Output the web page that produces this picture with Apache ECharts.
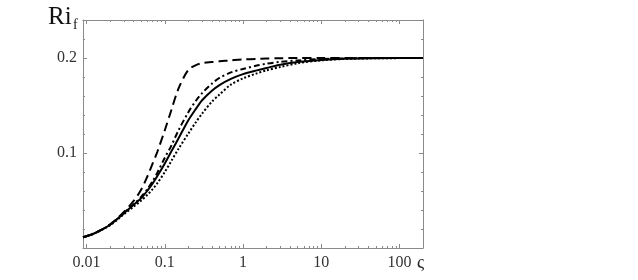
<!DOCTYPE html>
<html>
<head>
<meta charset="utf-8">
<script src="https://cdn.jsdelivr.net/npm/echarts@6/dist/echarts.min.js"></script>
<style>
  html, body { margin: 0; padding: 0; background: #fff; }
  #chart { width: 638px; height: 280px; }
</style>
</head>
<body>
<div id="chart"></div>
<script>
// x values (sigma), shared by all curves
var xValues = [0.009, 0.012, 0.016, 0.02, 0.025, 0.03, 0.04, 0.05, 0.06, 0.07, 0.08, 0.1, 0.12, 0.15,
  0.2, 0.25, 0.3, 0.4, 0.5, 0.7, 1, 1.5, 2, 3, 5, 10, 20, 50, 200];

var dashedY = [0.0113, 0.0147, 0.0199, 0.025, 0.0315, 0.038, 0.0495, 0.0615, 0.0755, 0.089, 0.101, 0.124, 0.144, 0.168,
  0.1875, 0.1925, 0.1945, 0.1957, 0.1965, 0.1975, 0.1985, 0.199, 0.1995, 0.1998, 0.2, 0.2, 0.2, 0.2, 0.2];

var dashDotY = [0.0113, 0.0147, 0.0198, 0.0245, 0.031, 0.037, 0.046, 0.054, 0.062, 0.0705, 0.079, 0.095, 0.107, 0.124,
  0.143, 0.155, 0.163, 0.173, 0.179, 0.1848, 0.1885, 0.192, 0.194, 0.196, 0.1975, 0.199, 0.1995, 0.2, 0.2];

var solidY = [0.0113, 0.0147, 0.0197, 0.0245, 0.031, 0.0365, 0.0455, 0.0525, 0.0605, 0.068, 0.0755, 0.089, 0.101, 0.1155,
  0.1345, 0.1465, 0.1555, 0.1655, 0.1715, 0.178, 0.183, 0.187, 0.1895, 0.193, 0.1957, 0.198, 0.1993, 0.1998, 0.2];

var dottedY = [0.0113, 0.0146, 0.0195, 0.024, 0.030, 0.0355, 0.0435, 0.050, 0.056, 0.062, 0.068, 0.080, 0.091, 0.1045,
  0.1205, 0.1325, 0.1415, 0.154, 0.1615, 0.172, 0.1785, 0.1838, 0.187, 0.1905, 0.1945, 0.1975, 0.199, 0.1997, 0.2];

var xTickLabels = [0.01, 0.1, 1, 10, 100];
var yTickLabels = [0.1, 0.2];

var X_MIN = 0.009, X_MAX = 200;
var FRAME = '#8a8a8a';
var FONT = '"Liberation Serif", "DejaVu Serif", serif';

function lg(v) { return Math.log10(v); }
function toPairs(ys) {
  return xValues.map(function(x, i) { return [lg(x), ys[i]]; });
}

// log-scale tick positions
var xMajor = xTickLabels.map(lg);
var xMinor = [];
for (var e = -3; e <= 2; e++) {
  for (var k = 2; k <= 9; k++) {
    var v = k * Math.pow(10, e);
    if (v > X_MIN && v < X_MAX) xMinor.push(lg(v));
  }
}
var yMinor = [];
for (var t = 1; t <= 11; t++) {
  if (t !== 5 && t !== 10) yMinor.push(+(t * 0.02).toFixed(2));
}

function xLabel(v) {
  for (var i = 0; i < xTickLabels.length; i++) {
    if (Math.abs(lg(xTickLabels[i]) - v) < 1e-6) return String(xTickLabels[i]);
  }
  return '';
}

function xAx(pos, ticks, len, showLine, showLabel) {
  return {
    type: 'value',
    position: pos,
    min: lg(X_MIN),
    max: lg(X_MAX),
    axisLine: {show: showLine, onZero: false, lineStyle: {color: FRAME, width: 1}},
    axisTick: {show: true, inside: true, length: len, customValues: ticks, lineStyle: {color: FRAME}},
    axisLabel: {
      show: showLabel,
      customValues: xMajor,
      formatter: xLabel,
      margin: 7,
      fontFamily: FONT,
      fontSize: 16,
      color: '#333'
    },
    splitLine: {show: false}
  };
}

function yAx(pos, ticks, len, showLine, showLabel) {
  return {
    type: 'value',
    position: pos,
    min: 0,
    max: 0.24,
    axisLine: {show: showLine, onZero: false, lineStyle: {color: FRAME, width: 1}},
    axisTick: {show: true, inside: true, length: len, customValues: ticks, lineStyle: {color: FRAME}},
    axisLabel: {
      show: showLabel,
      customValues: yTickLabels,
      formatter: function(v) { return v.toFixed(1); },
      margin: 6,
      fontFamily: FONT,
      fontSize: 16,
      color: '#333'
    },
    splitLine: {show: false}
  };
}

function curve(name, ys, type) {
  return {
    name: name,
    type: 'line',
    xAxisIndex: 0,
    yAxisIndex: 0,
    data: toPairs(ys),
    showSymbol: false,
    smooth: 0.3,
    lineStyle: {color: '#000', width: 2, type: type, cap: 'butt'},
    z: 3
  };
}

var chart = echarts.init(document.getElementById('chart'));

chart.setOption({
  animation: false,
  backgroundColor: '#fff',
  grid: {left: 83, right: 215, top: 20, bottom: 32, containLabel: false},
  xAxis: [
    xAx('bottom', xMajor, 4, true, true),
    xAx('bottom', xMinor, 2, false, false),
    xAx('top', xMajor, 4, true, false),
    xAx('top', xMinor, 2, false, false)
  ],
  yAxis: [
    yAx('left', yTickLabels, 4, true, true),
    yAx('left', yMinor, 2, false, false),
    yAx('right', yTickLabels, 4, true, false),
    yAx('right', yMinor, 2, false, false)
  ],
  graphic: [
    {type: 'text', left: 48, top: 5, style: {text: 'Ri', font: '25px ' + FONT, fill: '#111'}},
    {type: 'text', left: 73, top: 18, style: {text: 'f', font: '14px ' + FONT, fill: '#111'}},
    {type: 'text', left: 417, top: 254, style: {text: 'ς', font: '18px ' + FONT, fill: '#222'}}
  ],
  series: [
    curve('dashed', dashedY, [9, 5]),
    curve('dashdot', dashDotY, [6, 3, 2, 3]),
    curve('solid', solidY, 'solid'),
    curve('dotted', dottedY, [2, 2])
  ]
});
</script>
</body>
</html>
